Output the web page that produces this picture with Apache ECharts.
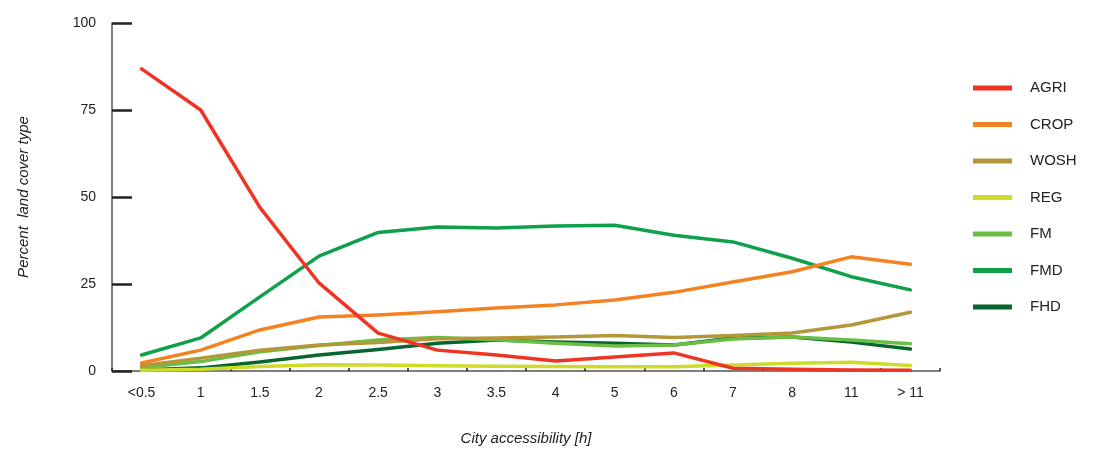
<!DOCTYPE html>
<html>
<head>
<meta charset="utf-8">
<script src="https://cdn.jsdelivr.net/npm/echarts@6/dist/echarts.min.js"></script>
<style>html,body{margin:0;padding:0;background:#fff}#c{width:1093px;height:450px}</style>
</head>
<body>
<div id="c"></div>
<script>
var categories = ['<0.5', '1', '1.5', '2', '2.5', '3', '3.5', '4', '5', '6', '7', '8', '11', '> 11'];
var yTicks = [0, 25, 50, 75, 100];
var AGRI = [86.8, 75.0, 47.0, 25.3, 10.9, 6.0, 4.6, 2.9, 4.0, 5.2, 0.8, 0.5, 0.3, 0.2];
var CROP = [2.3, 6.0, 11.8, 15.5, 16.1, 17.0, 18.1, 19.0, 20.4, 22.6, 25.6, 28.5, 32.8, 30.7];
var WOSH = [1.5, 3.7, 6.0, 7.5, 8.2, 9.3, 9.5, 9.8, 10.2, 9.6, 10.2, 10.9, 13.2, 16.9];
var REG = [0.2, 0.5, 1.3, 1.8, 1.7, 1.5, 1.4, 1.3, 1.2, 1.2, 1.7, 2.2, 2.5, 1.6];
var FM = [1.0, 2.7, 5.5, 7.3, 8.9, 9.6, 9.0, 8.0, 7.2, 7.5, 9.2, 9.8, 8.9, 7.8];
var FMD = [4.6, 9.5, 21.3, 33.0, 39.8, 41.4, 41.1, 41.7, 41.9, 39.0, 37.1, 32.4, 27.1, 23.3];
var FHD = [0.3, 0.9, 2.6, 4.6, 6.2, 8.0, 8.9, 8.3, 8.0, 7.5, 9.5, 9.8, 8.3, 6.3];

var names = ['AGRI', 'CROP', 'WOSH', 'REG', 'FM', 'FMD', 'FHD'];
var values = [AGRI, CROP, WOSH, REG, FM, FMD, FHD];
var colors = ['#ee3524', '#f58220', '#b5973a', '#cfdc27', '#6abd45', '#0ea04b', '#07652f'];

var font = 'Liberation Sans, Arial, sans-serif';
var series = [];
for (var i = values.length - 1; i >= 0; i--) {
  series.push({
    name: names[i], type: 'line', data: values[i], symbol: 'none',
    lineStyle: { color: colors[i], width: 3.5, cap: 'round', join: 'round' },
    itemStyle: { color: colors[i] }, z: 10 - i
  });
}

var chart = echarts.init(document.getElementById('c'), null, { renderer: 'canvas' });
chart.setOption({
  animation: false,
  backgroundColor: '#fff',
  grid: { left: 112, right: 153, top: 23, bottom: 79, containLabel: false, outerBoundsMode: 'none' },
  legend: {
    orient: 'vertical', left: 968, top: 75,
    data: names, icon: 'rect', itemWidth: 39, itemHeight: 5, itemGap: 20.5,
    textStyle: { fontFamily: font, fontSize: 15, color: '#222', lineHeight: 16, padding: [0, 0, 0, 13] }
  },
  xAxis: {
    type: 'category', data: categories, boundaryGap: true,
    name: 'City accessibility [h]', nameLocation: 'middle', nameGap: 60,
    nameTextStyle: { fontFamily: font, fontSize: 15, fontStyle: 'italic', color: '#222' },
    axisLine: { lineStyle: { color: '#555', width: 1.5 } },
    axisTick: { show: true, inside: true, length: 3, lineStyle: { color: '#222', width: 1.5 } },
    axisLabel: { fontFamily: font, fontSize: 14, color: '#222', margin: 15, interval: 0 },
    splitLine: { show: false }
  },
  yAxis: {
    type: 'value', min: 0, max: 100, interval: 25,
    name: 'Percent  land cover type', nameLocation: 'middle', nameGap: 81,
    nameTextStyle: { fontFamily: font, fontSize: 15, fontStyle: 'italic', color: '#222' },
    axisLine: { show: true, lineStyle: { color: '#555', width: 1.5 } },
    axisTick: { show: true, inside: true, length: 20, lineStyle: { color: '#222', width: 2.5 } },
    axisLabel: { fontFamily: font, fontSize: 14, color: '#222', margin: 16,
      formatter: function (v) { return yTicks.indexOf(v) >= 0 ? String(v) : ''; } },
    splitLine: { show: false }
  },
  series: series
});
</script>
</body>
</html>
